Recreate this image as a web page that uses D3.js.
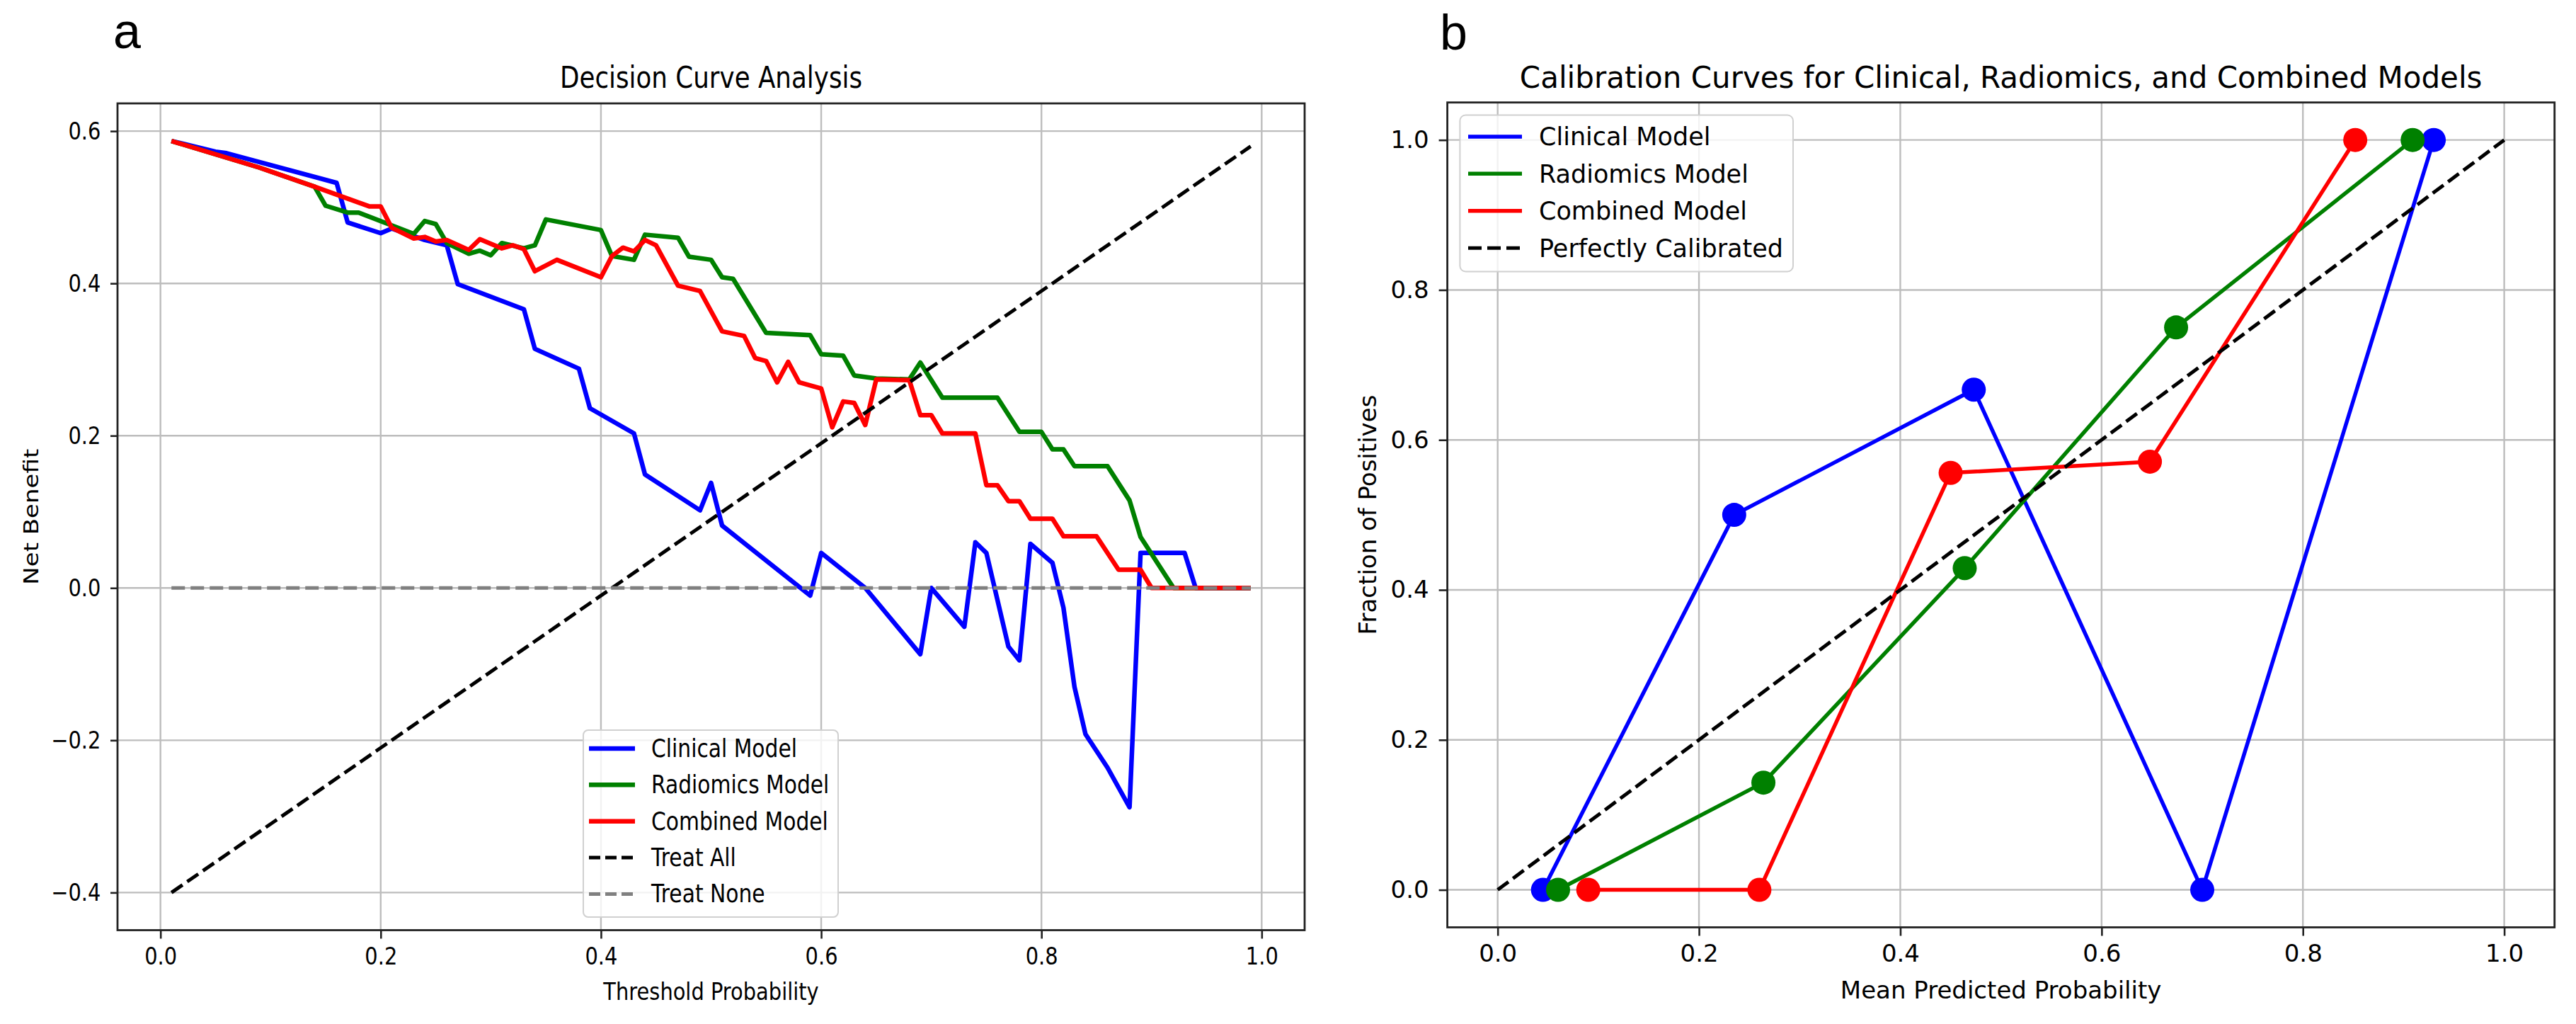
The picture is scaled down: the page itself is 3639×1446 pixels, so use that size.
<!DOCTYPE html>
<html lang="en">
<head>
  <meta charset="UTF-8">
  <title>Decision curve and calibration curves</title>
  <script src="https://d3js.org/d3.v7.min.js"></script>
  <style>
    body { margin: 0; background: #fff; }
    svg text { font-family: "DejaVu Sans", sans-serif; fill: #000; }
    .panel-tag { font-family: "Liberation Sans", Arial, sans-serif; }
  </style>
</head>
<body>
  <svg id="fig" width="3639" height="1446" viewBox="0 0 3639 1446"></svg>
  <script>
    // ---- panel a: decision curve data [threshold, net benefit] ----
    const dcaClinical = [
      [0.01, 0.587], [0.05, 0.573], [0.06, 0.571], [0.16, 0.532], [0.17, 0.480],
      [0.20, 0.466], [0.21, 0.472], [0.24, 0.457], [0.26, 0.450], [0.27, 0.399],
      [0.33, 0.366], [0.34, 0.314], [0.38, 0.288], [0.39, 0.236], [0.43, 0.203],
      [0.44, 0.149], [0.49, 0.102], [0.50, 0.138], [0.51, 0.082], [0.59, -0.010],
      [0.60, 0.046], [0.64, 0.000], [0.69, -0.087], [0.70, 0.000], [0.73, -0.051],
      [0.74, 0.060], [0.75, 0.046], [0.77, -0.077], [0.78, -0.095], [0.79, 0.058],
      [0.81, 0.033], [0.82, -0.026], [0.83, -0.130], [0.84, -0.192], [0.86, -0.236],
      [0.88, -0.288], [0.89, 0.046], [0.93, 0.046], [0.94, 0.000], [0.99, 0.000]
    ];
    const dcaRadiomics = [
      [0.01, 0.587], [0.09, 0.552], [0.14, 0.527], [0.15, 0.502], [0.17, 0.493],
      [0.18, 0.493], [0.23, 0.465], [0.24, 0.482], [0.25, 0.478], [0.26, 0.453],
      [0.28, 0.439], [0.29, 0.443], [0.30, 0.437], [0.31, 0.453], [0.33, 0.446],
      [0.34, 0.450], [0.35, 0.484], [0.40, 0.470], [0.41, 0.436], [0.43, 0.431],
      [0.44, 0.464], [0.47, 0.460], [0.48, 0.435], [0.50, 0.431], [0.51, 0.408],
      [0.52, 0.406], [0.55, 0.335], [0.59, 0.332], [0.60, 0.307], [0.62, 0.305],
      [0.63, 0.279], [0.65, 0.275], [0.68, 0.274], [0.69, 0.296], [0.71, 0.250],
      [0.76, 0.250], [0.78, 0.205], [0.80, 0.205], [0.81, 0.182], [0.82, 0.182],
      [0.83, 0.160], [0.86, 0.160], [0.88, 0.115], [0.89, 0.067], [0.92, 0.000],
      [0.99, 0.000]
    ];
    const dcaCombined = [
      [0.01, 0.587], [0.09, 0.552], [0.10, 0.547], [0.14, 0.527], [0.19, 0.501],
      [0.20, 0.501], [0.21, 0.473], [0.23, 0.459], [0.24, 0.461], [0.25, 0.455],
      [0.26, 0.457], [0.28, 0.444], [0.29, 0.458], [0.31, 0.446], [0.32, 0.450],
      [0.33, 0.445], [0.34, 0.416], [0.36, 0.431], [0.40, 0.408], [0.41, 0.436],
      [0.42, 0.447], [0.43, 0.442], [0.44, 0.457], [0.45, 0.450], [0.47, 0.397],
      [0.49, 0.390], [0.51, 0.337], [0.53, 0.331], [0.54, 0.302], [0.55, 0.298],
      [0.56, 0.270], [0.57, 0.297], [0.58, 0.270], [0.60, 0.262], [0.61, 0.211],
      [0.62, 0.245], [0.63, 0.243], [0.64, 0.214], [0.65, 0.274], [0.68, 0.273],
      [0.69, 0.227], [0.70, 0.227], [0.71, 0.203], [0.74, 0.203], [0.75, 0.135],
      [0.76, 0.135], [0.77, 0.114], [0.78, 0.114], [0.79, 0.091], [0.81, 0.091],
      [0.82, 0.068], [0.85, 0.068], [0.87, 0.024], [0.89, 0.024], [0.90, 0.000],
      [0.99, 0.000]
    ];
    const dcaTreatAll = [[0.01, -0.40], [0.99, 0.58]];
    const dcaTreatNone = [[0.01, 0.0], [0.99, 0.0]];
    const dcaXTicks = [0.0, 0.2, 0.4, 0.6, 0.8, 1.0];
    const dcaYTicks = [-0.4, -0.2, 0.0, 0.2, 0.4, 0.6];
    const dcaLabels = ["Clinical Model", "Radiomics Model", "Combined Model", "Treat All", "Treat None"];

    // ---- panel b: calibration data [mean predicted, fraction positive] ----
    const calClinical = [[0.045, 0.0], [0.235, 0.500], [0.473, 0.667], [0.700, 0.0], [0.930, 1.0]];
    const calRadiomics = [[0.060, 0.0], [0.264, 0.143], [0.464, 0.429], [0.674, 0.750], [0.909, 1.0]];
    const calCombined = [[0.090, 0.0], [0.260, 0.0], [0.450, 0.556], [0.648, 0.571], [0.852, 1.0]];
    const calPerfect = [[0.0, 0.0], [1.0, 1.0]];
    const calTicks = [0.0, 0.2, 0.4, 0.6, 0.8, 1.0];
    const calLabels = ["Clinical Model", "Radiomics Model", "Combined Model", "Perfectly Calibrated"];

    const BLUE = "#0000ff", GREEN = "#008000", RED = "#ff0000";
    const fmt = d3.format(".1f");
    const svg = d3.select("#fig");
    svg.append("rect").attr("width", 3639).attr("height", 1446).attr("fill", "#fff");

    // panel a text is a bit narrower than panel b (squeezed horizontally)
    const SQ = 0.85;

    // ================= panel a =================
    const ax = d3.scaleLinear().domain([-0.039, 1.039]).range([166, 1843]);
    const ay = d3.scaleLinear().domain([-0.4494, 0.6364]).range([1313.5, 146]);
    const ga = svg.append("g");

    // grid
    ga.append("g").selectAll("line").data(dcaXTicks).join("line")
      .attr("x1", d => ax(d)).attr("x2", d => ax(d))
      .attr("y1", ay.range()[1]).attr("y2", ay.range()[0])
      .attr("stroke", "#bdbdbd").attr("stroke-width", 2.4);
    ga.append("g").selectAll("line").data(dcaYTicks).join("line")
      .attr("y1", d => ay(d)).attr("y2", d => ay(d))
      .attr("x1", ax.range()[0]).attr("x2", ax.range()[1])
      .attr("stroke", "#bdbdbd").attr("stroke-width", 2.4);

    const aLine = d3.line().x(d => ax(d[0])).y(d => ay(d[1]));
    const dcaSeries = [
      { data: dcaClinical, color: BLUE, dash: null, width: 6.5 },
      { data: dcaRadiomics, color: GREEN, dash: null, width: 6.5 },
      { data: dcaCombined, color: RED, dash: null, width: 6.5 },
      { data: dcaTreatAll, color: "#000", dash: "19,8", width: 5 },
      { data: dcaTreatNone, color: "#808080", dash: "19,8", width: 5 }
    ];
    dcaSeries.forEach(s => {
      ga.append("path").attr("d", aLine(s.data))
        .attr("fill", "none").attr("stroke", s.color)
        .attr("stroke-width", s.width).attr("stroke-linejoin", "round")
        .attr("stroke-dasharray", s.dash);
    });

    // axes
    const axB = ga.append("g").attr("transform", `translate(0,${ay.range()[0]})`)
      .call(d3.axisBottom(ax).tickValues(dcaXTicks).tickFormat(fmt).tickSize(12).tickPadding(12));
    const axL = ga.append("g").attr("transform", `translate(${ax.range()[0]},0)`)
      .call(d3.axisLeft(ay).tickValues(dcaYTicks).tickFormat(fmt).tickSize(10).tickPadding(12));
    [axB, axL].forEach(g => {
      g.select(".domain").remove();
      g.selectAll(".tick line").attr("stroke", "#222").attr("stroke-width", 2.6);
      g.selectAll("text").attr("font-size", 34).attr("font-family", "DejaVu Sans").attr("fill", "#000");
    });
    axB.selectAll("text").attr("transform", `scale(${SQ},1)`);
    axL.selectAll("text").attr("x", -23.6 / SQ).attr("transform", `scale(${SQ},1)`);

    // spines
    ga.append("rect")
      .attr("x", ax.range()[0]).attr("y", ay.range()[1])
      .attr("width", ax.range()[1] - ax.range()[0]).attr("height", ay.range()[0] - ay.range()[1])
      .attr("fill", "none").attr("stroke", "#222").attr("stroke-width", 2.8);

    // titles and labels
    const axMid = (ax.range()[0] + ax.range()[1]) / 2;
    const ayMid = (ay.range()[0] + ay.range()[1]) / 2;
    ga.append("text").attr("transform", `translate(${axMid},124) scale(${SQ},1)`)
      .attr("text-anchor", "middle").attr("font-size", 42).text("Decision Curve Analysis");
    ga.append("text").attr("transform", `translate(${axMid},1412) scale(${SQ},1)`)
      .attr("text-anchor", "middle").attr("font-size", 34).text("Threshold Probability");
    ga.append("text").attr("transform", `translate(54,${ayMid}) scale(${SQ},1) rotate(-90)`)
      .attr("text-anchor", "middle").attr("font-size", 34).text("Net Benefit");

    // legend
    const legA = ga.append("g");
    legA.append("rect").attr("x", 824).attr("y", 1031).attr("width", 360).attr("height", 264)
      .attr("rx", 7).attr("fill", "#fff").attr("fill-opacity", 0.8)
      .attr("stroke", "#d0d0d0").attr("stroke-width", 2);
    dcaLabels.forEach((lab, i) => {
      const y = 1057 + i * 51.35;
      const s = dcaSeries[i];
      legA.append("line").attr("x1", 832).attr("x2", 897).attr("y1", y).attr("y2", y)
        .attr("stroke", s.color).attr("stroke-width", s.width)
        .attr("stroke-dasharray", s.dash ? "16,7" : null);
      legA.append("text").attr("transform", `translate(920,${y + 12}) scale(${SQ},1)`)
        .attr("font-size", 35).text(lab);
    });

    // ================= panel b =================
    const bx = d3.scaleLinear().domain([-0.05, 1.05]).range([2044.6, 3608.7]);
    const by = d3.scaleLinear().domain([-0.05, 1.05]).range([1309.5, 144.7]);
    const gb = svg.append("g");

    gb.append("g").selectAll("line").data(calTicks).join("line")
      .attr("x1", d => bx(d)).attr("x2", d => bx(d))
      .attr("y1", by.range()[1]).attr("y2", by.range()[0])
      .attr("stroke", "#bdbdbd").attr("stroke-width", 2.4);
    gb.append("g").selectAll("line").data(calTicks).join("line")
      .attr("y1", d => by(d)).attr("y2", d => by(d))
      .attr("x1", bx.range()[0]).attr("x2", bx.range()[1])
      .attr("stroke", "#bdbdbd").attr("stroke-width", 2.4);

    const bLine = d3.line().x(d => bx(d[0])).y(d => by(d[1]));
    const calSeries = [
      { data: calClinical, color: BLUE, dash: null, marker: true },
      { data: calRadiomics, color: GREEN, dash: null, marker: true },
      { data: calCombined, color: RED, dash: null, marker: true },
      { data: calPerfect, color: "#000", dash: "19,8", marker: false }
    ];
    calSeries.forEach(s => {
      gb.append("path").attr("d", bLine(s.data))
        .attr("fill", "none").attr("stroke", s.color)
        .attr("stroke-width", s.marker ? 5.5 : 5).attr("stroke-linejoin", "round")
        .attr("stroke-dasharray", s.dash);
      if (s.marker) {
        gb.append("g").selectAll("circle").data(s.data).join("circle")
          .attr("cx", d => bx(d[0])).attr("cy", d => by(d[1]))
          .attr("r", 17).attr("fill", s.color);
      }
    });

    const bxB = gb.append("g").attr("transform", `translate(0,${by.range()[0]})`)
      .call(d3.axisBottom(bx).tickValues(calTicks).tickFormat(fmt).tickSize(12).tickPadding(12));
    const bxL = gb.append("g").attr("transform", `translate(${bx.range()[0]},0)`)
      .call(d3.axisLeft(by).tickValues(calTicks).tickFormat(fmt).tickSize(12).tickPadding(14));
    [bxB, bxL].forEach(g => {
      g.select(".domain").remove();
      g.selectAll(".tick line").attr("stroke", "#222").attr("stroke-width", 2.6);
      g.selectAll("text").attr("font-size", 34).attr("font-family", "DejaVu Sans").attr("fill", "#000");
    });

    gb.append("rect")
      .attr("x", bx.range()[0]).attr("y", by.range()[1])
      .attr("width", bx.range()[1] - bx.range()[0]).attr("height", by.range()[0] - by.range()[1])
      .attr("fill", "none").attr("stroke", "#222").attr("stroke-width", 2.8);

    const bxMid = (bx.range()[0] + bx.range()[1]) / 2;
    const byMid = (by.range()[0] + by.range()[1]) / 2;
    gb.append("text").attr("x", bxMid).attr("y", 124).attr("text-anchor", "middle")
      .attr("font-size", 42).text("Calibration Curves for Clinical, Radiomics, and Combined Models");
    gb.append("text").attr("x", bxMid).attr("y", 1410).attr("text-anchor", "middle")
      .attr("font-size", 34).text("Mean Predicted Probability");
    gb.append("text").attr("transform", `translate(1944,${byMid}) rotate(-90)`)
      .attr("text-anchor", "middle").attr("font-size", 34).text("Fraction of Positives");

    const legB = gb.append("g");
    legB.append("rect").attr("x", 2062.4).attr("y", 162.5).attr("width", 470.6).attr("height", 221)
      .attr("rx", 8).attr("fill", "#fff").attr("fill-opacity", 0.8)
      .attr("stroke", "#d0d0d0").attr("stroke-width", 2);
    calLabels.forEach((lab, i) => {
      const y = 192.9 + i * 52.43;
      const s = calSeries[i];
      legB.append("line").attr("x1", 2074).attr("x2", 2150).attr("y1", y).attr("y2", y)
        .attr("stroke", s.color).attr("stroke-width", s.marker ? 5.5 : 5)
        .attr("stroke-dasharray", s.dash ? "19,8" : null);
      legB.append("text").attr("x", 2174).attr("y", y + 12.5)
        .attr("font-size", 35).text(lab);
    });

    // panel tags
    svg.append("text").attr("class", "panel-tag").attr("x", 160).attr("y", 68)
      .attr("font-size", 70).text("a");
    svg.append("text").attr("class", "panel-tag").attr("x", 2034).attr("y", 70)
      .attr("font-size", 70).text("b");
  </script>
</body>
</html>
